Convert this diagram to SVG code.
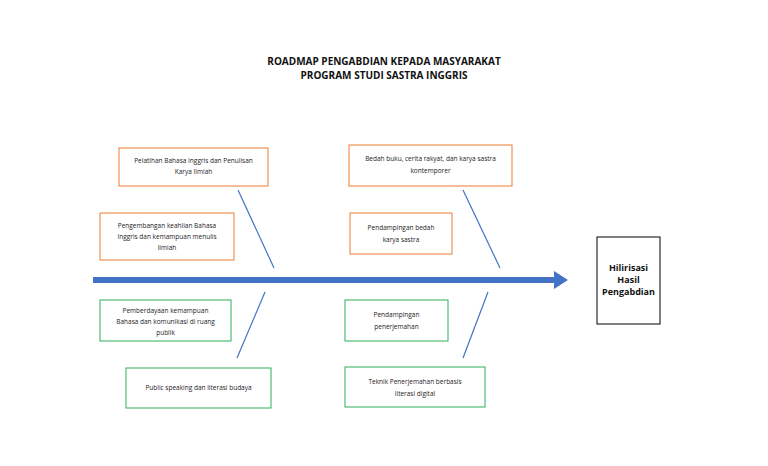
<svg xmlns="http://www.w3.org/2000/svg" width="768" height="466" viewBox="0 0 768 466">
<style>
text{font-family:"Open Sans","Liberation Sans",sans-serif;font-size:6.5px;fill:#222;text-anchor:middle}
.t{font-size:10px;font-weight:bold;fill:#111}
.h{font-size:9px;font-weight:bold;fill:#111}
.o{fill:#fff;stroke:#ED7D31;stroke-width:1}
.g{fill:#fff;stroke:#2EAE5A;stroke-width:1}
.b{fill:#fff;stroke:#000;stroke-width:1}
.l{stroke:#4472C4;stroke-width:1.2}
</style>
<rect width="768" height="466" fill="#fff"/>
<text class="t" x="384" y="65">ROADMAP PENGABDIAN KEPADA MASYARAKAT</text>
<text class="t" x="384" y="79">PROGRAM STUDI SASTRA INGGRIS</text>
<g id="connectors">
<line x1="93" y1="280" x2="556" y2="280" stroke="#4472C4" stroke-width="6"/>
<polygon points="554,271 568,280 554,289" fill="#4472C4"/>
<line class="l" x1="238" y1="190" x2="274" y2="268"/>
<line class="l" x1="265" y1="292" x2="237" y2="358"/>
<line class="l" x1="463" y1="190" x2="500" y2="268"/>
<line class="l" x1="488" y1="292" x2="463" y2="358"/>
</g>
<g id="n1"><rect class="o" x="119" y="148" width="149" height="38"/><text x="193.5" y="163">Pelatihan Bahasa Inggris dan Penulisan</text><text x="193.5" y="174">Karya Ilmiah</text></g>
<g id="n2"><rect class="o" x="100" y="213" width="134" height="47"/><text x="167" y="228">Pengembangan keahlian Bahasa</text><text x="167" y="239">Inggris dan kemampuan menulis</text><text x="167" y="250">ilmiah</text></g>
<g id="n3"><rect class="g" x="100" y="300" width="131" height="41"/><text x="165.5" y="313">Pemberdayaan kemampuan</text><text x="165.5" y="324">Bahasa dan komunikasi di ruang</text><text x="165.5" y="335">publik</text></g>
<g id="n4"><rect class="g" x="126" y="368" width="145" height="40"/><text x="198.5" y="390">Public speaking dan literasi budaya</text></g>
<g id="n5"><rect class="o" x="349" y="145" width="163" height="41"/><text x="430.5" y="161">Bedah buku, cerita rakyat, dan karya sastra</text><text x="430.5" y="173">kontemporer</text></g>
<g id="n6"><rect class="o" x="350" y="213" width="102" height="41"/><text x="401" y="230">Pendampingan bedah</text><text x="401" y="242">karya sastra</text></g>
<g id="n7"><rect class="g" x="345" y="300" width="103" height="41"/><text x="396.5" y="317">Pendampingan</text><text x="396.5" y="329">penerjemahan</text></g>
<g id="n8"><rect class="g" x="345" y="367" width="140" height="40"/><text x="415" y="384">Teknik Penerjemahan berbasis</text><text x="415" y="396">literasi digital</text></g>
<g id="n9"><rect class="b" x="597" y="237" width="63" height="87"/><text class="h" x="628.5" y="271">Hilirisasi</text><text class="h" x="628.5" y="283">Hasil</text><text class="h" x="628.5" y="295">Pengabdian</text></g>
</svg>
